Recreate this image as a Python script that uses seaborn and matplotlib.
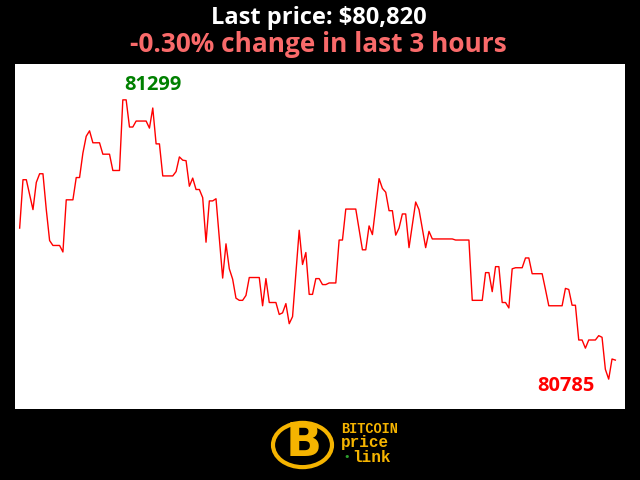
import pandas as pd
import matplotlib.pyplot as plt
import seaborn as sns
from matplotlib.patches import Circle

# minute offsets within the last 3 hours and the price at each turning point
minutes = [0, 1, 2, 4, 5, 6, 7, 8, 9, 10, 12, 13, 14, 16, 17, 18, 19, 20, 21, 22,
           24, 25, 27, 28, 30, 31, 32, 33, 34, 35, 38, 39, 40, 41, 42, 43, 46, 47, 48, 49,
           50, 51, 52, 53, 54, 55, 56, 57, 58, 59, 61, 62, 63, 64, 65, 66, 67, 68, 69, 72,
           73, 74, 75, 77, 78, 79, 80, 81, 82, 84, 85, 86, 87, 88, 89, 90, 91, 92, 93, 95,
           96, 97, 98, 101, 103, 104, 105, 106, 108, 109, 110, 111, 112, 113, 114, 115, 116, 117, 119, 120,
           122, 123, 124, 130, 131, 135, 136, 139, 140, 141, 142, 143, 144, 145, 146, 147, 148, 149, 151, 152,
           153, 154, 157, 158, 159, 163, 164, 165, 166, 167, 168, 169, 170, 171, 173, 174, 175, 176, 177, 178,
           179]
prices = [81063, 81152, 81152, 81097, 81147, 81163, 81163, 81097, 81040, 81031, 81031, 81019, 81115, 81115, 81156, 81156, 81201, 81232, 81242, 81220,
          81220, 81199, 81199, 81169, 81169, 81299, 81299, 81249, 81249, 81260, 81260, 81247, 81284, 81218, 81218, 81159, 81159, 81167, 81194, 81188,
          81187, 81140, 81155, 81134, 81134, 81119, 81037, 81113, 81113, 81117, 80971, 81034, 80988, 80969, 80934, 80930, 80930, 80939, 80972, 80972,
          80920, 80970, 80926, 80926, 80904, 80907, 80924, 80887, 80900, 81059, 80996, 81018, 80941, 80941, 80970, 80970, 80959, 80959, 80962, 80962,
          81041, 81041, 81098, 81098, 81023, 81023, 81067, 81051, 81154, 81136, 81129, 81095, 81095, 81050, 81063, 81089, 81089, 81027, 81111, 81097,
          81027, 81057, 81043, 81043, 81041, 81041, 80930, 80930, 80981, 80981, 80946, 80992, 80992, 80926, 80926, 80916, 80988, 80990, 80990, 81008,
          81008, 80979, 80979, 80950, 80920, 80920, 80952, 80950, 80921, 80921, 80857, 80857, 80842, 80857, 80857, 80865, 80862, 80803, 80785, 80822,
          80820]

title_1 = "Last price: $80,820"
title_2 = "-0.30% change in last 3 hours"

df = pd.DataFrame({'minute': minutes, 'price': prices})
hi = df.loc[df['price'].idxmax()]
lo = df.loc[df['price'].idxmin()]

fig = plt.figure(figsize=(6.4, 4.8), dpi=100, facecolor='black')
ax = fig.add_axes([15/640, 1 - 409/480, 610/640, 345/480])
ax.set_facecolor('white')

sns.lineplot(data=df, x='minute', y='price', color='#ff0000', linewidth=1, ax=ax)
ax.set_xlim(-1.4, 181.9)
ax.set_ylim(80730, 81365)
ax.set_xticks([])
ax.set_yticks([])
ax.set_xlabel('')
ax.set_ylabel('')
for s in ax.spines.values():
    s.set_visible(False)

ax.annotate(f"{int(hi['price'])}", xy=(hi['minute'], hi['price']), xytext=(21.4, 10.5),
            textcoords='offset points', ha='center', va='center',
            fontsize=14.4, fontweight='bold', family='Open Sans', color='#008000')
ax.annotate(f"{int(lo['price'])}", xy=(lo['minute'], lo['price']), xytext=(-30.6, -4.6),
            textcoords='offset points', ha='center', va='center',
            fontsize=14.4, fontweight='bold', family='Open Sans', color='#ff0000')

fig.text(0.498, 1 - 24.3/480, title_1, ha='center', va='baseline', color='white',
         fontsize=17, fontweight='bold', family='Open Sans')
fig.text(0.497, 1 - 52.3/480, title_2, ha='center', va='baseline', color='#f96a6a',
         fontsize=18.9, fontweight='bold', family='Open Sans')

# logo
gold = '#f5b400'
fig.patches.append(Circle((302.5/640, 1 - 445/480), 29.5/640, transform=fig.transFigure,
                          facecolor='black', edgecolor=gold, linewidth=3))
fig.text(304/640, 1 - 444/480, 'B', ha='center', va='center', color=gold,
         fontsize=34, fontweight='heavy', family='DejaVu Sans')
fig.text(341/640, 1 - 429/480, 'BITCOIN', ha='left', va='center', color=gold,
         fontsize=9.8, fontweight='bold', family='Liberation Mono')
fig.text(341/640, 1 - 443/480, 'price', ha='left', va='center', color=gold,
         fontsize=11.5, fontweight='bold', family='Liberation Mono')
fig.text(352/640, 1 - 457/480, 'link', ha='left', va='center', color=gold,
         fontsize=11.5, fontweight='bold', family='Liberation Mono')
fig.text(346.5/640, 1 - 457/480, '•', ha='center', va='center', color='#2ea02e',
         fontsize=8, family='DejaVu Sans')

fig.savefig('out.png', dpi=100, facecolor='black')
